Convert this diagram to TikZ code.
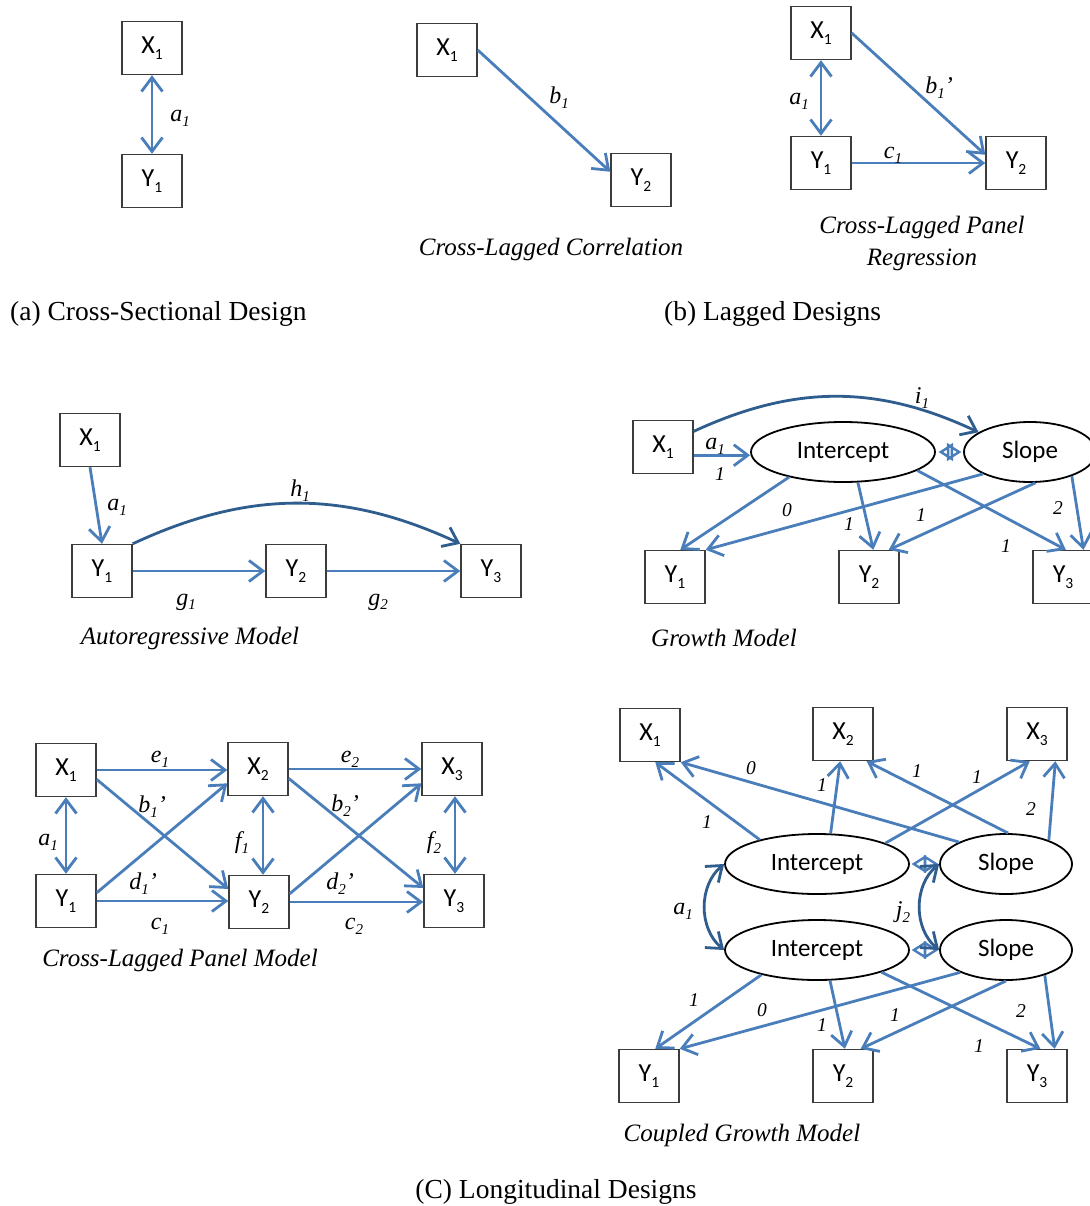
\documentclass[tikz,border=0pt]{standalone}
\usepackage{fontspec}
\setmainfont{Liberation Serif}
\newfontfamily\boxfont{Carlito}
\usetikzlibrary{arrows.meta,shapes.geometric}

\definecolor{pathblue}{HTML}{4A7EBB}
\definecolor{curveblue}{HTML}{2F5D8E}
\definecolor{boxgray}{HTML}{3C3C3C}

% lowered small digit used as a subscript
\newcommand{\dn}[1]{\raisebox{-0.22em}{\fontsize{15.5}{15.5}\selectfont #1}}
\newcommand{\ldn}[1]{\raisebox{-0.2em}{\fontsize{15}{15}\selectfont #1}}

\begin{document}
\begin{tikzpicture}[x=1pt,y=-1pt,
  var/.style={draw=boxgray, line width=1.4pt, minimum width=60pt, minimum height=53pt,
    inner sep=0pt, font=\boxfont\fontsize{26}{30}\selectfont},
  latent/.style={ellipse, draw=black, line width=1.8pt, minimum width=184pt, minimum height=60pt,
    inner sep=0pt, font=\boxfont\fontsize{25}{30}\selectfont},
  slopebox/.style={latent, minimum width=132pt},
  reg/.style={draw=pathblue, line width=2.8pt, -{Straight Barb[length=14pt,width=21pt]}},
  cov/.style={draw=pathblue, line width=2.8pt,
    {Straight Barb[length=14pt,width=21pt]}-{Straight Barb[length=14pt,width=21pt]}},
  curv/.style={draw=curveblue, line width=2.8pt, -{Straight Barb[length=14pt,width=21pt]}},
  curvcov/.style={draw=curveblue, line width=2.8pt,
    {Straight Barb[length=14pt,width=21pt]}-{Straight Barb[length=14pt,width=21pt]}},
  ocov/.style={draw=pathblue, line width=2.4pt, line join=miter},
  lab/.style={font=\itshape\fontsize{24}{28}\selectfont, inner sep=0pt},
  num/.style={font=\itshape\fontsize{19.5}{22}\selectfont, inner sep=0pt},
  captext/.style={font=\fontsize{27.5}{32}\selectfont, inner sep=0pt},
  icaptext/.style={font=\itshape\fontsize{25}{30}\selectfont, inner sep=0pt}]

\useasboundingbox[fill=white] (0,0) rectangle (1089,1206);

% ---------- (a) cross-sectional ----------
\node[var] (a-x1) at (152,48) {X\dn{1}};
\node[var] (a-y1) at (152,181) {Y\dn{1}};
\draw[cov] (a-x1) -- (a-y1);
\node[lab] (a-la1) at (180,118) {a\ldn{1}};
\node[captext, anchor=west] (a-cap) at (10,314) {(a) Cross-Sectional Design};

% ---------- (b) lagged: cross-lagged correlation ----------
\node[var] (b-x1) at (447,50) {X\dn{1}};
\node[var] (b-y2) at (641,180) {Y\dn{2}};
\draw[reg] (b-x1.east) -- (b-y2.165);
\node[lab] (b-lb1) at (559,98) {b\ldn{1}};
\node[icaptext] (b-cap) at (551,249) {Cross-Lagged Correlation};

% ---------- (b) lagged: cross-lagged panel regression ----------
\node[var] (c-x1) at (821,33) {X\dn{1}};
\node[var] (c-y1) at (821,163) {Y\dn{1}};
\node[var] (c-y2) at (1016,163) {Y\dn{2}};
\draw[cov] (c-x1) -- (c-y1);
\draw[reg] (c-x1.east) -- (c-y2.165);
\draw[reg] (c-y1.east) -- (c-y2.west);
\node[lab] (c-la1) at (799,101) {a\ldn{1}};
\node[lab] (c-lb1) at (939,88) {b\ldn{1}’};
\node[lab] (c-lc1) at (893,155) {c\ldn{1}};
\node[icaptext] (c-cap1) at (922,227) {Cross-Lagged Panel};
\node[icaptext] (c-cap2) at (922,260) {Regression};
\node[captext, anchor=west] (b-title) at (664,314) {(b) Lagged Designs};

% ---------- autoregressive model ----------
\node[var] (d-x1) at (90,440) {X\dn{1}};
\node[var] (d-y1) at (102,571) {Y\dn{1}};
\node[var] (d-y2) at (296,571) {Y\dn{2}};
\node[var] (d-y3) at (491,571) {Y\dn{3}};
\draw[reg] (d-x1.south) -- (d-y1.north);
\draw[curv] (d-y1.north east) to[bend left=25] (d-y3.north west);
\draw[reg] (d-y1) -- (d-y2);
\draw[reg] (d-y2) -- (d-y3);
\node[lab] (d-la1) at (117,507) {a\ldn{1}};
\node[lab] (d-lh1) at (300,491) {h\ldn{1}};
\node[lab] (d-lg1) at (186,602) {g\ldn{1}};
\node[lab] (d-lg2) at (378,602) {g\ldn{2}};
\node[icaptext] (d-cap) at (190,638) {Autoregressive Model};

% ---------- growth model ----------
\node[var] (e-x1) at (663,447) {X\dn{1}};
\node[latent] (e-i) at (843,452) {Intercept};
\node[slopebox] (e-s) at (1030,452) {Slope};
\node[var] (e-y1) at (675,577) {Y\dn{1}};
\node[var] (e-y2) at (869,577) {Y\dn{2}};
\node[var] (e-y3) at (1063,577) {Y\dn{3}};
\draw[curv] (e-x1.27) to[bend left=25] (e-s.159);
\draw[reg] (e-x1.-15) -- (e-x1.-15 -| e-i.west);
% open two-headed covariance marker
\draw[ocov] ([xshift=5pt]e-i.east) -- ++(11,-7) -- ++(0,14) -- cycle
            ([xshift=-4pt]e-s.west) -- ++(-11,-7) -- ++(0,14) -- cycle;
\draw[reg] (e-i.-155) -- (e-y1.79);
\draw[reg] (e-i.-64) -- (e-y2.81);
\draw[reg] (e-i.-14) -- (e-y3.84);
\draw[reg] (e-s.-155) -- (e-y1.north east);
\draw[reg] (e-s.-80) -- (e-y2.54);
\draw[reg] (e-s.-30) -- (e-y3.53);
\node[lab] (e-li1) at (922,398) {i\ldn{1}};
\node[lab] (e-la1) at (715,446) {a\ldn{1}};
\node[num] (e-n1) at (720,474) {1};
\node[num] (e-n2) at (787,510) {0};
\node[num] (e-n3) at (849,524) {1};
\node[num] (e-n4) at (921,515) {1};
\node[num] (e-n5) at (1006,546) {1};
\node[num] (e-n6) at (1058,508) {2};
\node[icaptext] (e-cap) at (724,638) {Growth Model};

% ---------- cross-lagged panel model ----------
\node[var] (f-x1) at (66,770) {X\dn{1}};
\node[var] (f-x2) at (258,769) {X\dn{2}};
\node[var] (f-x3) at (452,769) {X\dn{3}};
\node[var] (f-y1) at (66,901) {Y\dn{1}};
\node[var] (f-y2) at (259,902) {Y\dn{2}};
\node[var] (f-y3) at (454,901) {Y\dn{3}};
\draw[reg] (f-x1.east) -- (f-x1.east -| f-x2.west);
\draw[reg] (f-x2.east) -- (f-x2.east -| f-x3.west);
\draw[reg] (f-y1.east) -- (f-y1.east -| f-y2.west);
\draw[reg] (f-y2.east) -- (f-y2.east -| f-y3.west);
\draw[reg] (f-x1.-17) -- (f-y2.157);
\draw[reg] (f-y1.15) -- (f-x2.205);
\draw[reg] (f-x2.-17) -- (f-y3.157);
\draw[reg] (f-y2.15) -- (f-x3.205);
\draw[cov] (f-x1) -- (f-y1);
\draw[cov] ([xshift=5pt]f-x2.south) -- ([xshift=4pt]f-y2.north);
\draw[cov] ([xshift=3pt]f-x3.south) -- ([xshift=1pt]f-y3.north);
\node[lab] (f-le1) at (160,759) {e\ldn{1}};
\node[lab] (f-le2) at (350,759) {e\ldn{2}};
\node[lab] (f-lb1) at (152,807) {b\ldn{1}’};
\node[lab] (f-lb2) at (345,806) {b\ldn{2}’};
\node[lab] (f-ld1) at (143,884) {d\ldn{1}’};
\node[lab] (f-ld2) at (340,884) {d\ldn{2}’};
\node[lab] (f-lc1) at (160,926) {c\ldn{1}};
\node[lab] (f-lc2) at (354,926) {c\ldn{2}};
\node[lab] (f-la1) at (48,842) {a\ldn{1}};
\node[lab] (f-lf1) at (242,843) {f\ldn{1}};
\node[lab] (f-lf2) at (434,843) {f\ldn{2}};
\node[icaptext] (f-cap) at (180,960) {Cross-Lagged Panel Model};

% ---------- coupled growth model ----------
\node[var] (g-x1) at (650,735) {X\dn{1}};
\node[var] (g-x2) at (843,734) {X\dn{2}};
\node[var] (g-x3) at (1037,734) {X\dn{3}};
\node[latent] (g-i1) at (817,864) {Intercept};
\node[slopebox] (g-s1) at (1006,864) {Slope};
\node[latent] (g-i2) at (817,950) {Intercept};
\node[slopebox] (g-s2) at (1006,950) {Slope};
\node[var] (g-y1) at (649,1076) {Y\dn{1}};
\node[var] (g-y2) at (843,1076) {Y\dn{2}};
\node[var] (g-y3) at (1037,1076) {Y\dn{3}};
% upper growth factors to X
\draw[reg] (g-i1.157) -- (g-x1.-79);
\draw[reg] (g-i1.66) -- (g-x2.-96);
\draw[reg] (g-i1.17) -- (g-x3.-105);
\draw[reg] (g-s1.155) -- (g-x1.south east);
\draw[reg] (g-s1.86) -- (g-x2.-49);
\draw[reg] (g-s1.29) -- (g-x3.-56);
% lower growth factors to Y
\draw[reg] (g-i2.-156) -- (g-y1.77);
\draw[reg] (g-i2.-67) -- (g-y2.86);
\draw[reg] (g-i2.-19) -- (g-y3.83);
\draw[reg] (g-s2.-154) -- (g-y1.north east);
\draw[reg] (g-s2.south) -- (g-y2.57);
\draw[reg] (g-s2.-33) -- (g-y3.57);
% covariances
\draw[ocov] ([xshift=4pt]g-i1.east) -- ++(11,-7) -- ++(0,14) -- cycle
            ([xshift=-3pt]g-s1.west) -- ++(-11,-7) -- ++(0,14) -- cycle;
\draw[ocov] ([xshift=4pt]g-i2.east) -- ++(11,-7) -- ++(0,14) -- cycle
            ([xshift=-3pt]g-s2.west) -- ++(-11,-7) -- ++(0,14) -- cycle;
\draw[curvcov] (g-i1.west) to[bend right=50] (g-i2.west);
\draw[curvcov] (g-s1.west) to[bend right=50] (g-s2.west);
\node[num] (g-n1) at (707,822) {1};
\node[num] (g-n2) at (751,768) {0};
\node[num] (g-n3) at (822,785) {1};
\node[num] (g-n4) at (917,771) {1};
\node[num] (g-n5) at (977,777) {1};
\node[num] (g-n6) at (1031,809) {2};
\node[lab] (g-la1) at (683,911) {a\ldn{1}};
\node[lab] (g-lj2) at (903,912) {j\ldn{2}};
\node[num] (g-n7) at (694,1000) {1};
\node[num] (g-n8) at (762,1010) {0};
\node[num] (g-n9) at (822,1025) {1};
\node[num] (g-n10) at (895,1015) {1};
\node[num] (g-n11) at (979,1046) {1};
\node[num] (g-n12) at (1021,1011) {2};
\node[icaptext] (g-cap) at (742,1135) {Coupled Growth Model};

\node[captext] (c-title) at (556,1192) {(C) Longitudinal Designs};
\end{tikzpicture}
\end{document}
